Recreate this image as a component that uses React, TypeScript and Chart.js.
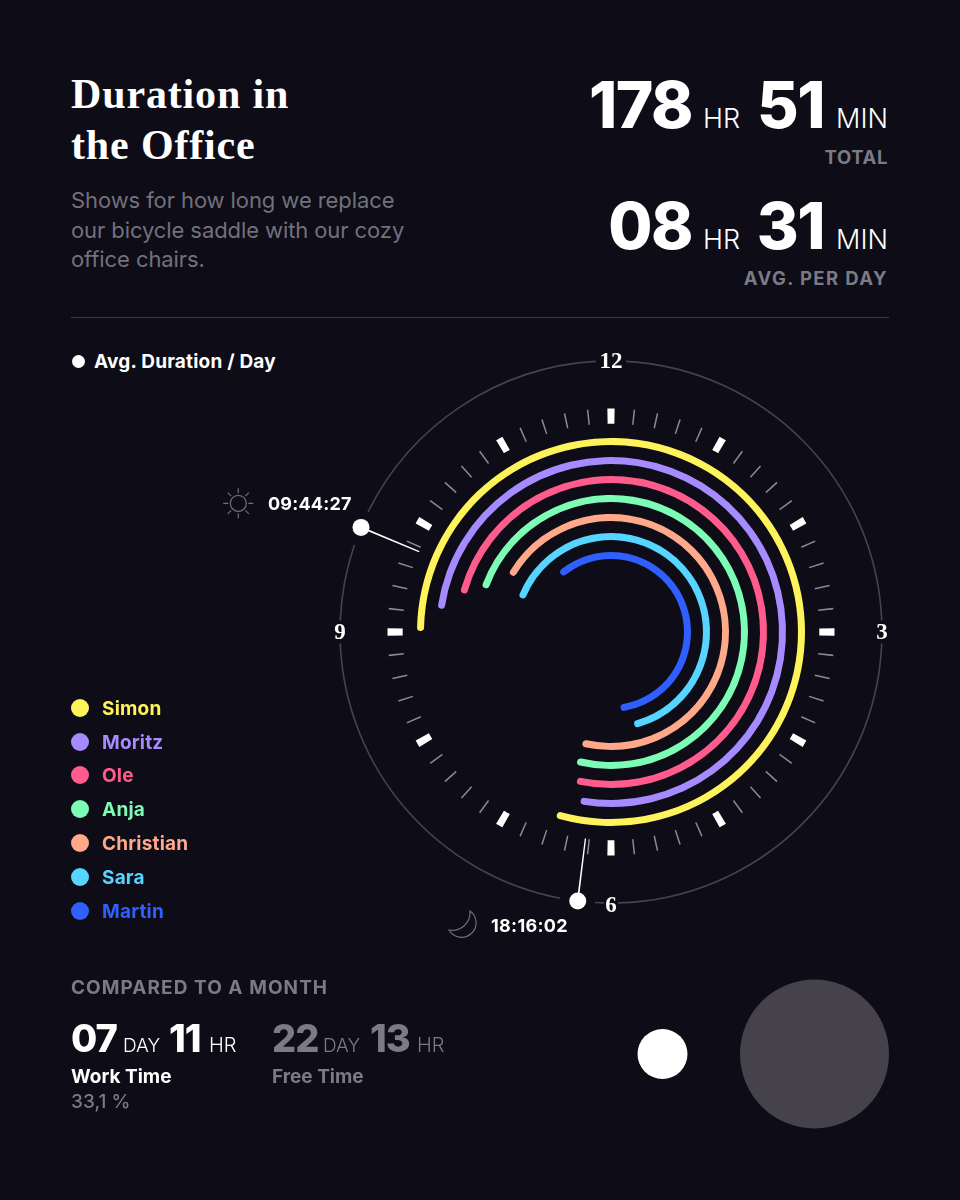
import React, { useEffect, useRef } from "react";
import { Chart, registerables } from "chart.js";

Chart.register(...registerables);

const people = ["Simon", "Moritz", "Ole", "Anja", "Christian", "Sara", "Martin"];
const arrivals = [9.01, 9.26, 9.49, 9.64, 9.99, 9.69, 10.64];
const departures = [18.55, 18.34, 18.43, 18.49, 18.48, 17.53, 17.76];
const colours = ["#FFF35C", "#A58BFF", "#FF5C8D", "#7DFCB5", "#FFA98A", "#55D5FF", "#2F5FFF"];
const avgTimes = ["18:16:02", "09:44:27"];
const needleHours = [6.235, 9.757];
const clockLabels = ["12", "3", "6", "9"];
const circleSegments = [84.4, 4.8, 86.1, 3, 1.9, 7.4, 76.8, 4.8, 16.4, 7.5, 60.5, 6.4];
const monthLabels = ["Work Time", "Free Time"];
const monthBubbles = [25, 74.5];

const BG = "#0D0C17";
const GREY = "#7B7A85";
const SUB = "#72717C";
const SANS = "Inter, sans-serif";
const SERIF = "'Liberation Serif', serif";
const T = "transparent";

function tickSlices() {
  const major = 1.86;
  const minor = 0.4;
  const data: number[] = [];
  const bg: string[] = [];
  for (let i = 0; i < 60; i++) {
    const w = i % 5 === 0 ? major : minor;
    const next = (i + 1) % 5 === 0 ? major : minor;
    data.push(w, 6 - w / 2 - next / 2);
    bg.push(i % 5 === 0 ? "#FFFFFF" : "#8A8994", T);
  }
  return { data, bg, rotation: -major / 2 };
}

function clockDatasets() {
  const ticks = tickSlices();
  const spacer = (weight: number) => ({
    data: [1],
    backgroundColor: [T],
    borderWidth: 0,
    weight,
  });
  const sets: any[] = [
    spacer(1.2),
    {
      data: circleSegments,
      backgroundColor: circleSegments.map((_, i) => (i % 2 === 0 ? "#44434E" : T)),
      borderWidth: 0,
      rotation: 3.2,
      weight: 1.6,
    },
    spacer(46.7),
    {
      data: ticks.data,
      backgroundColor: ticks.bg,
      borderWidth: 0,
      rotation: ticks.rotation,
      weight: 15.2,
    },
    spacer(14.3),
  ];
  people.forEach((_, i) => {
    const span = departures[i] - arrivals[i];
    sets.push({
      data: [span, 12 - span],
      backgroundColor: [colours[i], T],
      borderWidth: 0,
      borderRadius: [3.5, 0],
      rotation: ((arrivals[i] % 12) / 12) * 360,
      weight: 7,
    });
    if (i < people.length - 1) sets.push(spacer(12));
  });
  return sets;
}

function needleSlices() {
  const w = 0.012;
  const [a, b] = needleHours;
  return [a - w / 2, w, b - a - w, w, 12 - b - w / 2];
}

const dotPlugin = {
  id: "needleDots",
  afterDatasetsDraw(chart: any) {
    const ctx = chart.ctx;
    const arcs = chart.getDatasetMeta(0).data;
    [1, 3].forEach((i) => {
      const el = arcs[i];
      const mid = (el.startAngle + el.endAngle) / 2;
      ctx.save();
      ctx.fillStyle = "#FFFFFF";
      ctx.beginPath();
      ctx.arc(el.x + Math.cos(mid) * el.outerRadius, el.y + Math.sin(mid) * el.outerRadius, 8.5, 0, Math.PI * 2);
      ctx.fill();
      ctx.restore();
    });
  },
};

const baseOpts: any = {
  responsive: false,
  animation: false,
  events: [],
  plugins: { legend: { display: false }, tooltip: { enabled: false } },
  layout: { padding: 0 },
};

function Txt({ x, y, s, w = 400, c = "#fff", ls = 0, f = SANS, right = false, center = false, children }: any) {
  const style: any = {
    position: "absolute",
    top: y - 100,
    lineHeight: 0,
    whiteSpace: "nowrap",
    fontFamily: f,
    fontSize: s,
    fontWeight: w,
    color: c,
    letterSpacing: ls,
  };
  if (right) style.right = 960 - x;
  else style.left = x;
  if (center) style.transform = "translateX(-50%)";
  return (
    <div style={style}>
      <span style={{ display: "inline-block", width: 0, height: 100 }} />
      {children}
    </div>
  );
}

export default function App() {
  const clockRef = useRef<HTMLCanvasElement>(null);
  const needleRef = useRef<HTMLCanvasElement>(null);
  const bubbleRef = useRef<HTMLCanvasElement>(null);

  useEffect(() => {
    document.body.style.margin = "0";
    document.body.style.background = BG;
    const clock = new Chart(clockRef.current!, {
      type: "doughnut",
      data: { datasets: clockDatasets() },
      options: { ...baseOpts, cutout: 73 },
    });
    const needle = new Chart(needleRef.current!, {
      type: "doughnut",
      data: {
        datasets: [
          {
            data: needleSlices(),
            backgroundColor: [T, "#FFFFFF", T, "#FFFFFF", T],
            borderWidth: 0,
          },
        ],
      },
      options: { ...baseOpts, radius: 271, cutout: "76.75%" },
      plugins: [dotPlugin],
    });
    const bubble = new Chart(bubbleRef.current!, {
      type: "bubble",
      data: {
        labels: monthLabels,
        datasets: [
          {
            data: monthLabels.map((l, i) => ({ x: l, y: 1, r: monthBubbles[i] })),
            backgroundColor: ["#FFFFFF", "#45424C"],
            borderWidth: 0,
            clip: false,
          } as any,
        ],
      },
      options: {
        ...baseOpts,
        scales: {
          x: { type: "category", offset: false, display: false },
          y: { min: 0, max: 2, display: false },
        },
      },
    });
    return () => {
      clock.destroy();
      needle.destroy();
      bubble.destroy();
    };
  }, []);

  const clockPos: Record<string, [number, number]> = {
    "12": [611, 368],
    "3": [882, 639],
    "6": [611, 912],
    "9": [340, 639],
  };

  return (
    <div style={{ position: "absolute", left: 0, top: 0, width: 960, height: 1200, background: BG, overflow: "hidden" }}>
      <Txt x={71} y={108} s={42} w={700} f={SERIF} ls={0.85}>Duration in</Txt>
      <Txt x={71} y={158.5} s={42} w={700} f={SERIF} ls={0.85}>the Office</Txt>
      <Txt x={71} y={208} s={22} c={SUB} ls={-0.09}>Shows for how long we replace</Txt>
      <Txt x={71} y={237.5} s={22} c={SUB} ls={-0.09}>our bicycle saddle with our cozy</Txt>
      <Txt x={71} y={266.5} s={22} c={SUB} ls={-0.09}>office chairs.</Txt>

      <Txt x={692} y={128} s={64} w={800} right ls={-1.5}>178</Txt>
      <Txt x={703} y={128} s={27} w={300}>HR</Txt>
      <Txt x={824} y={128} s={64} w={800} right ls={-1.5}>51</Txt>
      <Txt x={888} y={128} s={27} w={300} right>MIN</Txt>
      <Txt x={888} y={164} s={18.5} w={700} c={GREY} right ls={0.6}>TOTAL</Txt>

      <Txt x={692} y={249} s={64} w={800} right ls={-1.5}>08</Txt>
      <Txt x={703} y={249} s={27} w={300}>HR</Txt>
      <Txt x={824} y={249} s={64} w={800} right ls={-1.5}>31</Txt>
      <Txt x={888} y={249} s={27} w={300} right>MIN</Txt>
      <Txt x={888} y={285} s={18.5} w={700} c={GREY} right ls={1.4}>AVG. PER DAY</Txt>

      <div style={{ position: "absolute", left: 71, top: 317, width: 818, height: 1, background: "#3A3944" }} />

      <div style={{ position: "absolute", left: 71.5, top: 354.5, width: 13, height: 13, borderRadius: "50%", background: "#fff" }} />
      <Txt x={94} y={368} s={19} w={700} ls={0.2}>Avg. Duration / Day</Txt>

      <canvas ref={clockRef} width={546} height={546} style={{ position: "absolute", left: 338, top: 359, width: 546, height: 546 }} />
      <canvas ref={needleRef} width={600} height={600} style={{ position: "absolute", left: 311, top: 332, width: 600, height: 600 }} />

      {clockLabels.map((l) => (
        <Txt key={l} x={clockPos[l][0]} y={clockPos[l][1]} s={23} w={700} f={SERIF} center>{l}</Txt>
      ))}

      <svg width={960} height={1200} style={{ position: "absolute", left: 0, top: 0, pointerEvents: "none" }} fill="none" stroke="#6F6E79" strokeWidth={1.2}>
        <circle cx={238.3} cy={503.3} r={8} />
        <path d="M238.3 488.3v5M238.3 513.3v5M223.3 503.3h5M248.3 503.3h5M227.7 492.7l3.5 3.5M245.4 510.4l3.5 3.5M227.7 513.9l3.5-3.5M245.4 496.2l3.5-3.5" />
        <path d="M470 911A14.5 14.5 0 1 1 449 930A17.8 17.8 0 0 0 470 911Z" />
      </svg>
      <Txt x={268} y={510} s={18} w={700} ls={0.2}>{avgTimes[1]}</Txt>
      <Txt x={491} y={932} s={18} w={700} ls={0.3}>{avgTimes[0]}</Txt>

      {people.map((p, i) => {
        const ys = [708, 742, 775, 809, 843, 877, 911];
        return (
          <React.Fragment key={p}>
            <div style={{ position: "absolute", left: 71, top: ys[i] - 9, width: 18, height: 18, borderRadius: "50%", background: colours[i] }} />
            <Txt x={102} y={ys[i] + 6.5} s={19} w={700} c={colours[i]} ls={0.2}>{p}</Txt>
          </React.Fragment>
        );
      })}

      <Txt x={71} y={994} s={19} w={700} c={GREY} ls={1.05}>COMPARED TO A MONTH</Txt>

      <Txt x={71} y={1052} s={38} w={800} ls={-1}>07</Txt>
      <Txt x={123} y={1052} s={19} w={300}>DAY</Txt>
      <Txt x={169} y={1052} s={38} w={800} ls={-1}>11</Txt>
      <Txt x={209} y={1052} s={20} w={300}>HR</Txt>
      <Txt x={272} y={1052} s={38} w={800} c={GREY} ls={-1}>22</Txt>
      <Txt x={323} y={1052} s={19} w={300} c={GREY}>DAY</Txt>
      <Txt x={370} y={1052} s={38} w={800} c={GREY} ls={-1}>13</Txt>
      <Txt x={417} y={1052} s={20} w={300} c={GREY}>HR</Txt>

      <Txt x={71} y={1083} s={19} w={700}>{monthLabels[0]}</Txt>
      <Txt x={272} y={1083} s={19} w={700} c={GREY}>{monthLabels[1]}</Txt>
      <Txt x={71} y={1108} s={19} w={500} c={GREY}>33,1 %</Txt>

      <canvas ref={bubbleRef} width={301} height={160} style={{ position: "absolute", left: 588, top: 974, width: 301, height: 160 }} />
    </div>
  );
}
